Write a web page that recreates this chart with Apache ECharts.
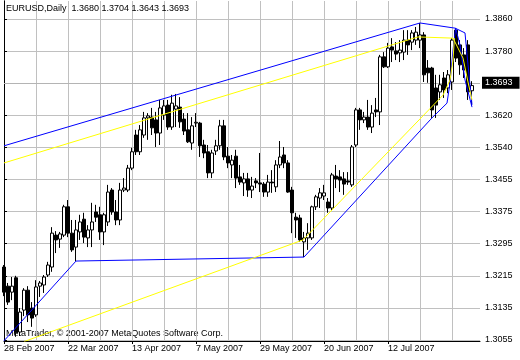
<!DOCTYPE html>
<html><head><meta charset="utf-8">
<script src="https://cdn.jsdelivr.net/npm/echarts@6/dist/echarts.min.js"></script>
<style>html,body{margin:0;padding:0;background:#fff}#c{width:520px;height:360px}</style>
</head><body><div id="c"></div>
<script>
const symbol = 'EURUSD';
const timeframe = 'Daily';
const watermark = 'MetaTrader, \u00A9 2001-2007 MetaQuotes Software Corp.';
const firstDate = [2007, 1, 28];   // 28 Feb 2007, daily bars on weekdays
const slotCount = 120;             // 118 bars + 2 empty slots on the right

const opens = [1.3238,1.3190,1.3175,1.3211,1.3075,1.3130,1.3180,1.3135,1.3118,1.3190,
1.3193,1.3218,1.3238,1.3318,1.3308,1.3318,1.3389,1.3323,1.3288,1.3326,
1.3358,1.3311,1.3331,1.3376,1.3369,1.3326,1.3351,1.3431,1.3376,1.3356,
1.3431,1.3431,1.3486,1.3569,1.3527,1.3569,1.3612,1.3614,1.3607,1.3574,
1.3619,1.3644,1.3589,1.3634,1.3639,1.3609,1.3582,1.3549,1.3599,1.3599,
1.3544,1.3527,1.3474,1.3529,1.3542,1.3592,1.3516,1.3494,1.3516,1.3464,
1.3449,1.3459,1.3431,1.3454,1.3449,1.3446,1.3426,1.3451,1.3439,1.3494,
1.3519,1.3499,1.3431,1.3363,1.3361,1.3301,1.3311,1.3311,1.3389,1.3411,
1.3416,1.3401,1.3386,1.3466,1.3464,1.3459,1.3454,1.3444,1.3544,1.3632,
1.3607,1.3614,1.3589,1.3632,1.3627,1.3765,1.3740,1.3790,1.3780,1.3775,
1.3777,1.3807,1.3802,1.3807,1.3807,1.3820,1.3737,1.3737,1.3687,1.3677,
1.3712,1.3687,1.3702,1.3832,1.3795,1.3770,1.3795,1.3680];
const highs = [1.3243,1.3198,1.3213,1.3216,1.3135,1.3185,1.3190,1.3150,1.3205,1.3203,
1.3218,1.3251,1.3338,1.3328,1.3326,1.3394,1.3406,1.3356,1.3356,1.3369,
1.3374,1.3343,1.3399,1.3394,1.3389,1.3374,1.3444,1.3436,1.3406,1.3449,
1.3461,1.3494,1.3537,1.3582,1.3594,1.3627,1.3624,1.3637,1.3627,1.3657,
1.3657,1.3657,1.3670,1.3672,1.3664,1.3624,1.3624,1.3614,1.3624,1.3602,
1.3557,1.3544,1.3532,1.3557,1.3607,1.3607,1.3539,1.3519,1.3532,1.3494,
1.3474,1.3474,1.3464,1.3461,1.3524,1.3451,1.3469,1.3481,1.3506,1.3554,
1.3539,1.3506,1.3439,1.3374,1.3369,1.3326,1.3348,1.3392,1.3419,1.3436,
1.3444,1.3411,1.3474,1.3494,1.3481,1.3476,1.3476,1.3544,1.3637,1.3637,
1.3627,1.3657,1.3644,1.3662,1.3770,1.3777,1.3800,1.3812,1.3802,1.3807,
1.3832,1.3832,1.3832,1.3840,1.3850,1.3827,1.3757,1.3740,1.3720,1.3720,
1.3727,1.3732,1.3812,1.3837,1.3807,1.3787,1.3807,1.3704];
const lows = [1.3165,1.3143,1.3155,1.3063,1.3065,1.3115,1.3100,1.3088,1.3113,1.3163,
1.3173,1.3213,1.3226,1.3273,1.3286,1.3313,1.3313,1.3276,1.3253,1.3306,
1.3298,1.3288,1.3288,1.3351,1.3306,1.3293,1.3341,1.3369,1.3343,1.3343,
1.3426,1.3426,1.3481,1.3519,1.3519,1.3562,1.3557,1.3569,1.3539,1.3544,
1.3607,1.3582,1.3582,1.3589,1.3587,1.3569,1.3549,1.3532,1.3589,1.3514,
1.3511,1.3461,1.3461,1.3519,1.3532,1.3506,1.3486,1.3461,1.3436,1.3444,
1.3416,1.3414,1.3411,1.3436,1.3426,1.3414,1.3414,1.3424,1.3426,1.3486,
1.3486,1.3424,1.3323,1.3311,1.3301,1.3263,1.3281,1.3306,1.3381,1.3386,
1.3406,1.3374,1.3381,1.3436,1.3426,1.3419,1.3444,1.3439,1.3539,1.3582,
1.3599,1.3582,1.3574,1.3614,1.3594,1.3737,1.3737,1.3752,1.3757,1.3752,
1.3757,1.3770,1.3782,1.3795,1.3787,1.3702,1.3700,1.3612,1.3612,1.3657,
1.3662,1.3674,1.3682,1.3752,1.3720,1.3712,1.3657,1.3643];
const closes = [1.3175,1.3150,1.3190,1.3073,1.3125,1.3180,1.3118,1.3110,1.3188,1.3198,
1.3213,1.3243,1.3323,1.3306,1.3321,1.3389,1.3323,1.3281,1.3331,1.3351,
1.3313,1.3331,1.3351,1.3363,1.3326,1.3369,1.3426,1.3376,1.3356,1.3431,
1.3436,1.3486,1.3527,1.3527,1.3582,1.3612,1.3617,1.3587,1.3574,1.3637,
1.3642,1.3589,1.3649,1.3642,1.3602,1.3579,1.3552,1.3592,1.3601,1.3542,
1.3524,1.3474,1.3524,1.3542,1.3592,1.3514,1.3499,1.3506,1.3461,1.3451,
1.3459,1.3431,1.3441,1.3449,1.3446,1.3426,1.3451,1.3449,1.3494,1.3514,
1.3499,1.3426,1.3374,1.3356,1.3306,1.3311,1.3323,1.3389,1.3414,1.3424,
1.3424,1.3386,1.3469,1.3459,1.3456,1.3446,1.3451,1.3539,1.3632,1.3607,
1.3614,1.3589,1.3624,1.3627,1.3765,1.3740,1.3787,1.3782,1.3772,1.3782,
1.3807,1.3795,1.3825,1.3827,1.3820,1.3720,1.3725,1.3632,1.3644,1.3695,
1.3682,1.3720,1.3807,1.3762,1.3745,1.3732,1.3677,1.3693];

// indicator envelopes: bar index and price of each vertex
const blueUpperX = [0, 104, 112.8, 115.25, 116, 117];
const blueUpperY = [1.3542, 1.3850, 1.3837, 1.3825, 1.3745, 1.3645];
const blueLowerX = [0, 18, 75, 107, 110.75, 111.5, 112.25, 112.9, 114, 115.25, 117];
const blueLowerY = [1.3053, 1.3253, 1.3263, 1.3612, 1.3649, 1.3700, 1.3782, 1.3837, 1.3795, 1.3707, 1.3639];
const yellowUpperX = [0, 103.5, 112.25, 113.5, 114.75, 116, 117];
const yellowUpperY = [1.3499, 1.3815, 1.3812, 1.3787, 1.3762, 1.3702, 1.3657];
const yellowLowerX = [5, 74.75, 109.75, 111.5, 112.25, 112.6];
const yellowLowerY = [1.3051, 1.3306, 1.3669, 1.3707, 1.3757, 1.3812];

const yTickLabels = ['1.3055','1.3135','1.3215','1.3295','1.3375','1.3455','1.3540','1.3620','1.3700','1.3780','1.3860'];
const yTickStep = 0.00805;
const yMin = 1.30525, yMax = 1.39051;
const xGridEvery = 8;   // bars between vertical grid lines
const xLabelEvery = 16; // bars between date labels

const font = '"Liberation Sans", Arial, sans-serif';
const months = ['Jan','Feb','Mar','Apr','May','Jun','Jul','Aug','Sep','Oct','Nov','Dec'];
const cats = [];
const d = new Date(Date.UTC(firstDate[0], firstDate[1], firstDate[2]));
while (cats.length < slotCount) {
  const wd = d.getUTCDay();
  if (wd !== 0 && wd !== 6) cats.push(d.getUTCDate() + ' ' + months[d.getUTCMonth()] + ' ' + d.getUTCFullYear());
  d.setUTCDate(d.getUTCDate() + 1);
}
const candles = opens.map((o, i) => [o, closes[i], lows[i], highs[i]]);
const yBase = parseFloat(yTickLabels[0]);
const yTicks = yTickLabels.map((_, k) => +(yBase + k * yTickStep).toFixed(6));
const pairs = (xs, ys) => xs.map((x, i) => [x, ys[i]]);
const n = opens.length - 1;
const title = symbol + ',' + timeframe + '  ' + [opens[n], highs[n], lows[n], closes[n]].map(v => v.toFixed(4)).join(' ');
const priceLineColor = '#b4b4b4';
const gridStyle = () => ({color: '#c0c0c0', type: 'solid', width: 1});

const lineSeries = (xs, ys, color) => ({
  type: 'line', xAxisIndex: 1, data: pairs(xs, ys), showSymbol: false, symbol: 'none',
  lineStyle: {color: color, width: 1}, silent: true, z: 3, animation: false
});

const chart = echarts.init(document.getElementById('c'), null, {renderer: 'canvas'});
chart.setOption({
  animation: false,
  backgroundColor: '#fff',
  textStyle: {fontFamily: font},
  grid: {left: 4, right: 40, top: 1, bottom: 19},
  xAxis: [{
    type: 'category', data: cats, boundaryGap: false,
    axisLine: {show: true, lineStyle: {color: '#000', width: 1}},
    axisTick: {show: true, interval: xLabelEvery - 1, length: 3, lineStyle: {color: '#000'}},
    axisLabel: {interval: xLabelEvery - 1, align: 'left', margin: 3, color: '#000', fontSize: 9, fontFamily: font, showMaxLabel: false},
    splitLine: {show: true, interval: xGridEvery - 1, lineStyle: gridStyle()}
  }, {
    type: 'value', min: 0, max: slotCount - 1, position: 'top',
    axisLine: {show: false}, axisLabel: {show: false}, axisTick: {show: false}, splitLine: {show: false}
  }],
  yAxis: [{
    type: 'value', position: 'right', min: yMin, max: yMax,
    axisLine: {show: true, lineStyle: {color: '#000', width: 1}},
    axisTick: {show: true, length: 3, customValues: yTicks, lineStyle: {color: '#000'}},
    axisLabel: {customValues: yTicks, margin: 5, color: '#000', fontSize: 9, fontFamily: font,
      formatter: v => yTickLabels[Math.round((v - yBase) / yTickStep)] || ''},
    splitLine: {show: true, lineStyle: gridStyle()}
  }, {
    type: 'value', position: 'left', min: yMin, max: yMax,
    axisLine: {show: true, lineStyle: {color: '#000', width: 1}},
    axisTick: {show: false}, axisLabel: {show: false}, splitLine: {show: false}
  }],
  graphic: [
    {type: 'text', left: 6, top: 4, z: 10, style: {text: title, fill: '#000', fontSize: 9, fontFamily: font}},
    {type: 'text', left: 6, top: 329, z: 0, style: {text: watermark, fill: '#000', fontSize: 9, fontFamily: font}}
  ],
  series: [
  {
    type: 'candlestick', data: candles, barWidth: 3, z: 2,
    itemStyle: {color: '#fff', color0: '#000', borderColor: '#000', borderColor0: '#000', borderWidth: 1},
    markLine: {
      symbol: 'none', silent: true, animation: false, z: 1,
      lineStyle: {color: priceLineColor, type: 'solid', width: 1},
      label: {position: 'end', distance: 2, formatter: closes[n].toFixed(4), color: '#fff', backgroundColor: '#000',
        padding: [2, 7, 1, 3], fontSize: 9, fontFamily: font},
      data: [{yAxis: closes[n]}]
    }
  },
  lineSeries(blueUpperX, blueUpperY, '#0000ff'),
  lineSeries(blueLowerX, blueLowerY, '#0000ff'),
  lineSeries(yellowUpperX, yellowUpperY, '#ffff00'),
  lineSeries(yellowLowerX, yellowLowerY, '#ffff00')
  ]
});
</script>
</body></html>
